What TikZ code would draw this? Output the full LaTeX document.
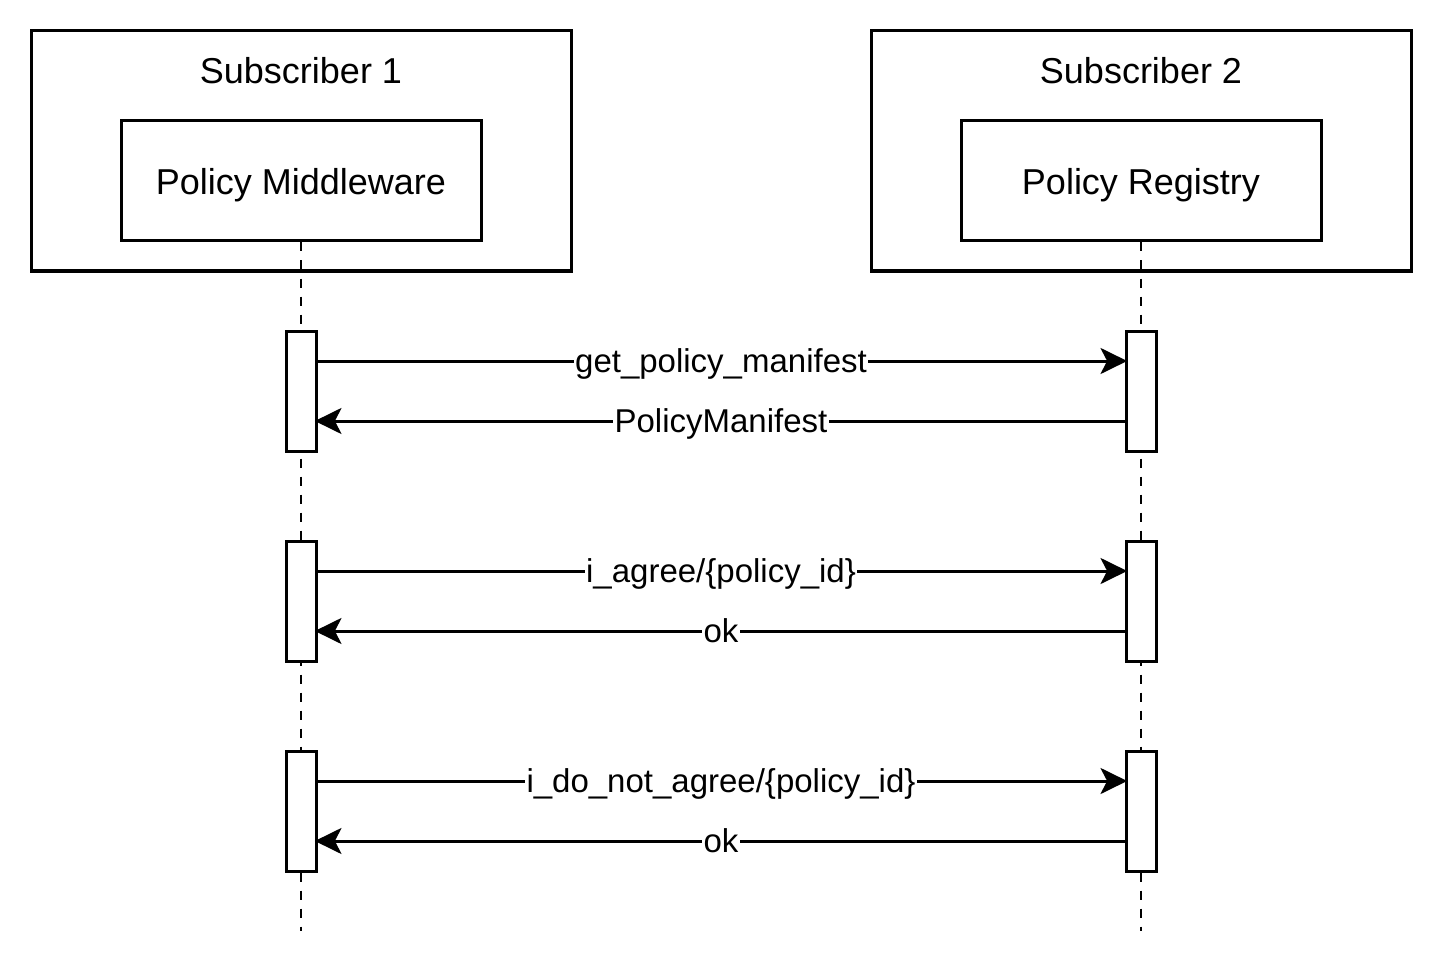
\documentclass[tikz,border=0pt]{standalone}
\usepackage{fontspec}
\setmainfont{Liberation Sans}
\usetikzlibrary{calc,arrows.meta}
\tikzset{
  box/.style={draw, line width=2.25pt, fill=white, inner sep=0pt},
  outerbox/.style={box, minimum width=405pt, minimum height=180pt},
  innerbox/.style={box, minimum width=270pt, minimum height=90pt, font=\fontsize{27}{32}\selectfont, text depth=0pt},
  titletext/.style={font=\fontsize{27}{32}\selectfont, inner sep=0pt},
  actbox/.style={box, minimum width=22.5pt, minimum height=90pt},
  lifeline/.style={line width=1.7pt, dash pattern=on 6.75pt off 6.75pt},
  msg/.style={line width=2.25pt, shorten >=-2pt, -{Stealth[length=20pt, width=19.5pt, inset=5pt]}},
  lbl/.style={midway, fill=white, inner sep=1pt, font=\fontsize{24.75}{29}\selectfont, text depth=1pt}
}
\begin{document}
\begin{tikzpicture}[x=0.75pt, y=-0.75pt]
\useasboundingbox (0,0) rectangle (1443,963);
% outer boxes
\node[outerbox] (s1) at (301,151) {};
\node[outerbox] (s2) at (1141,151) {};
\node[titletext] (t1) at (301,71) {Subscriber 1};
\node[titletext] (t2) at (1141,71) {Subscriber 2};
% inner boxes
\node[innerbox] (pm) at (301,181) {Policy Middleware};
\node[innerbox] (pr) at (1141,181) {Policy Registry};
% lifeline ends
\coordinate (e1) at (301,931);
\coordinate (e2) at (1141,931);
\draw[lifeline] (pm.south) -- (e1);
\draw[lifeline] (pr.south) -- (e2);
% activation boxes
\node[actbox] (a1) at (301,391) {};
\node[actbox] (b1) at (1141,391) {};
\node[actbox] (a2) at (301,601) {};
\node[actbox] (b2) at (1141,601) {};
\node[actbox] (a3) at (301,811) {};
\node[actbox] (b3) at (1141,811) {};
% messages
\draw[msg] ($(a1.east)+(0,-30)$) -- ($(b1.west)+(0,-30)$) node[lbl] {get\_policy\_manifest};
\draw[msg] ($(b1.west)+(0,30)$) -- ($(a1.east)+(0,30)$) node[lbl] {PolicyManifest};
\draw[msg] ($(a2.east)+(0,-30)$) -- ($(b2.west)+(0,-30)$) node[lbl] {i\_agree/\{policy\_id\}};
\draw[msg] ($(b2.west)+(0,30)$) -- ($(a2.east)+(0,30)$) node[lbl] {ok};
\draw[msg] ($(a3.east)+(0,-30)$) -- ($(b3.west)+(0,-30)$) node[lbl] {i\_do\_not\_agree/\{policy\_id\}};
\draw[msg] ($(b3.west)+(0,30)$) -- ($(a3.east)+(0,30)$) node[lbl] {ok};
\end{tikzpicture}
\end{document}
